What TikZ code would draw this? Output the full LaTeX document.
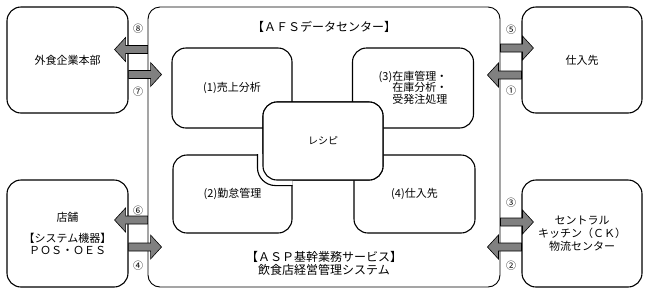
\documentclass[tikz,border=0pt]{standalone}
\usepackage{fontspec}
\setmainfont{Noto Sans CJK JP}
\usetikzlibrary{calc}
\definecolor{arrowgray}{gray}{0.5}

\begin{document}
\begin{tikzpicture}[x=1pt, y=-1pt,
	box/.style={draw, line width=1.1pt, rounded corners=14pt, fill=white, align=center, inner sep=0pt, font=\fontsize{11}{13}\selectfont},
	num/.style={font=\fontsize{10}{10}\selectfont},
	fatarrow/.style={draw=black, fill=arrowgray, line width=0.6pt, to path={
		let \p1=(\tikztostart), \p2=(\tikztotarget), \n1={sign(\x2-\x1)} in
		(\x1,\y1+4pt) -- (\x2-\n1*11pt,\y1+4pt) -- (\x2-\n1*11pt,\y1+12pt) -- (\x2,\y1)
		-- (\x2-\n1*11pt,\y1-12pt) -- (\x2-\n1*11pt,\y1-4pt) -- (\x1,\y1-4pt) -- cycle}}]
	\useasboundingbox (0,0) rectangle (648,293);
	% outer boxes
	\node[box, line width=0.9pt, rounded corners=12pt, minimum width=352, minimum height=280] (main) at (324,147) {};
	\node[box, minimum width=121, minimum height=106] (hq) at (67.5,60) {外食企業本部};
	\node[box, minimum width=121, minimum height=107] (shop) at (67.5,233.5) {店舗\\[8pt]【システム機器】\\[-1pt]ＰＯＳ・ＯＥＳ};
	\node[box, minimum width=120, minimum height=106] (sup) at (582,60) {仕入先};
	\node[box, minimum width=120, minimum height=107] (ck) at (582,233.5) {セントラル\\キッチン（ＣＫ）\\物流センター};
	% inside the data center
	\node[font=\fontsize{12}{14}\selectfont] (afs) at (324,27) {【ＡＦＳデータセンター】};
	\node[align=center, font=\fontsize{12}{13}\selectfont] (asp) at (324,263.5) {【ＡＳＰ基幹業務サービス】\\飲食店経営管理システム};
	\node[box, minimum width=120, minimum height=80] (sales) at (232,88) {(1)売上分析};
	\node[box, minimum width=121, minimum height=80, align=left, font=\fontsize{11}{11.5}\selectfont] (stock) at (413,88) {(3)在庫管理・\\\phantom{(3)}在庫分析・\\\phantom{(3)}受発注処理};
	\node[box, minimum width=119, minimum height=78] (labor) at (232.5,194) {(2)勤怠管理};
	\node[box, minimum width=121, minimum height=78] (buy) at (414.5,194) {(4)仕入先};
	\node[box, minimum width=120, minimum height=78, font=\fontsize{10}{12}\selectfont] (recipe) at (323,141) {};
	\begin{scope}
		\clip (labor.south west) rectangle (labor.north east);
		\draw[line width=1.1pt, rounded corners=18pt, fill=white] ([shift={(-5,-5)}]recipe.north west) rectangle ([shift={(5,5)}]recipe.south east);
	\end{scope}
	\node[box, minimum width=120, minimum height=78, font=\fontsize{10}{12}\selectfont] (recipe) at (323,141) {レシピ};
	% data flows
	\draw[fatarrow] (main.west |- 0,49.5) to ++(-33,0);
	\draw[fatarrow] (hq.east |- 0,74.5) to ++(33,0);
	\draw[fatarrow] (main.west |- 0,220) to ++(-33,0);
	\draw[fatarrow] (shop.east |- 0,247) to ++(33,0);
	\draw[fatarrow] (main.east |- 0,48) to ++(33,0);
	\draw[fatarrow] (sup.west |- 0,75) to ++(-34,0);
	\draw[fatarrow] (main.east |- 0,222) to ++(33,0);
	\draw[fatarrow] (ck.west |- 0,247) to ++(-34,0);
	\node[num] (n8) at (138,29) {⑧};
	\node[num] (n7) at (138,92) {⑦};
	\node[num] (n6) at (138,211) {⑥};
	\node[num] (n4) at (138,266) {④};
	\node[num] (n5) at (511,30) {⑤};
	\node[num] (n1) at (511,91) {①};
	\node[num] (n3) at (511,203) {③};
	\node[num] (n2) at (511,266) {②};
\end{tikzpicture}
\end{document}
